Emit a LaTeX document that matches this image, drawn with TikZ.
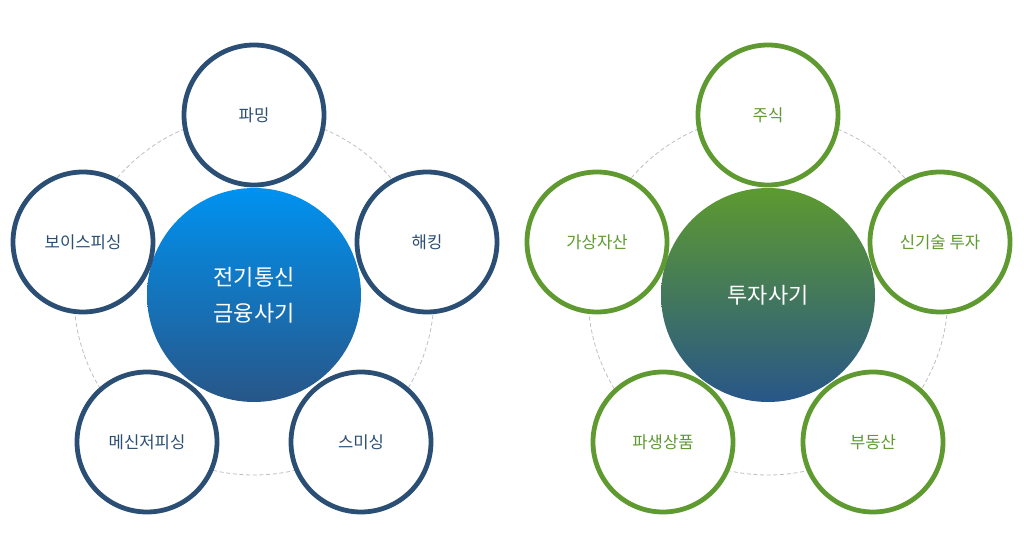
\documentclass[tikz,border=0pt]{standalone}
\usepackage{fontspec}
\setmainfont{Noto Sans CJK KR}
\definecolor{navy}{RGB}{42,78,116}
\definecolor{leaf}{RGB}{94,154,48}
\definecolor{skyblue}{RGB}{0,146,240}
\definecolor{deepblue}{RGB}{40,86,136}
\tikzset{
  ring/.style={circle, draw=#1, line width=3.6pt, fill=white, minimum size=140*0.75pt, inner sep=0pt, text=#1, font=\fontsize{12.5}{15}\selectfont},
  hub/.style={circle, minimum size=214*0.75pt, inner sep=0pt, text=white, font=\fontsize{16.5}{27}\selectfont, align=center},
  guide/.style={draw=gray!50, dash pattern=on 3pt off 2pt, line width=0.6pt}
}
\begin{document}
\begin{tikzpicture}[x=0.75pt,y=0.75pt,yscale=-1,xscale=1]
		\useasboundingbox (0,0) rectangle (1024,559);
		
		% left cluster
		\draw [guide] (254,295) circle (180);
		\node [hub, top color=skyblue, bottom color=deepblue] (fraud) at (254,295) {전기통신\\금융사기};
		\node [ring=navy] (pharming) at (254,115) {파밍};
		\node [ring=navy] (hacking) at (427,242) {해킹};
		\node [ring=navy] (smishing) at (361,442) {스미싱};
		\node [ring=navy] (messenger) at (147,442) {메신저피싱};
		\node [ring=navy] (voice) at (83,242) {보이스피싱};
		
		% right cluster
		\draw [guide] (768,295) circle (180);
		\node [hub, top color=leaf, bottom color=deepblue] (invest) at (768,295) {투자사기};
		\node [ring=leaf] (stock) at (768,115) {주식};
		\node [ring=leaf] (newtech) at (940,242) {신기술 투자};
		\node [ring=leaf] (estate) at (873,442) {부동산};
		\node [ring=leaf] (deriv) at (663,442) {파생상품};
		\node [ring=leaf] (crypto) at (597,242) {가상자산};
	\end{tikzpicture}
\end{document}
